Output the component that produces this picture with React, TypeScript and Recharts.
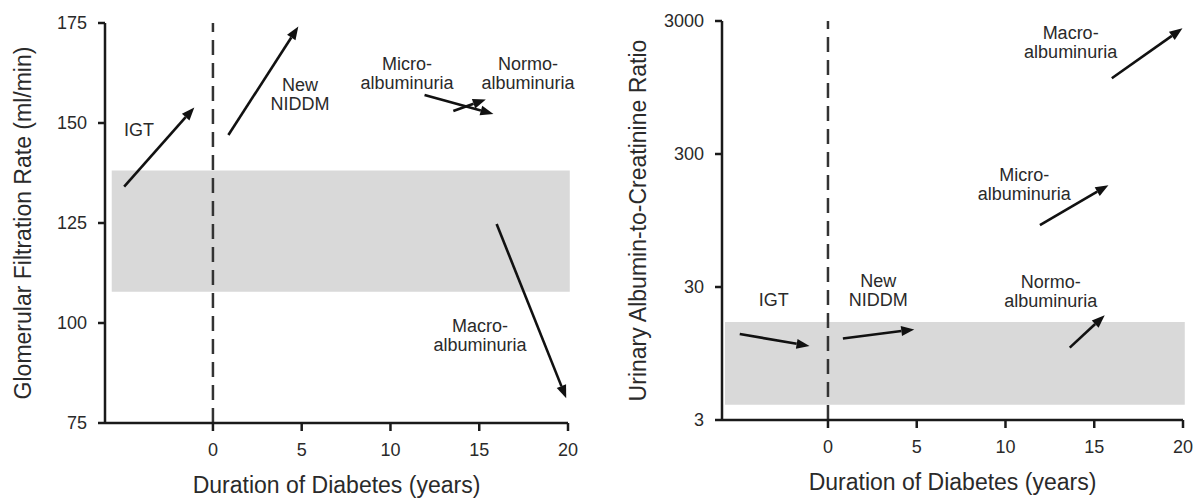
import React from "react"
import {
  ComposedChart,
  XAxis,
  YAxis,
  ReferenceArea,
  ReferenceLine,
  ReferenceDot,
} from "recharts"

// shared x axis
const xTicks = [0, 5, 10, 15, 20]

// left panel: GFR (ml/min)
const gfrTicks = [75, 100, 125, 150, 175]
const gfrBand = { x1: -5.7, x2: 20.1, y1: 107.8, y2: 138.1 }
const gfrArrows = [
  { name: "IGT", from: [-5.0, 134.1], to: [-1.05, 153.9] },
  { name: "New NIDDM", from: [0.87, 147.0], to: [4.81, 174.1] },
  { name: "Micro", from: [11.92, 157.0], to: [15.8, 152.25] },
  { name: "Normo", from: [13.54, 153.0], to: [15.37, 155.9] },
  { name: "Macro", from: [15.98, 124.75], to: [19.9, 81.2] },
]
const gfrLabels = [
  { lines: ["IGT"], x: -4.16, y: 148.25 },
  { lines: ["New", "NIDDM"], x: 4.9, y: 159.5 },
  { lines: ["Micro-", "albuminuria"], x: 10.93, y: 164.75 },
  { lines: ["Normo-", "albuminuria"], x: 17.75, y: 164.75 },
  { lines: ["Macro-", "albuminuria"], x: 15.04, y: 99.25 },
]

// right panel: urinary albumin-to-creatinine ratio (log)
const acrTicks = [3, 30, 300, 3000]
const acrBand = { x1: -5.8, x2: 20.1, y1: 3.9, y2: 16.4 }
const acrArrows = [
  { name: "IGT", from: [-4.97, 13.3], to: [-1.04, 10.8] },
  { name: "New NIDDM", from: [0.84, 12.3], to: [4.86, 14.4] },
  { name: "Normo", from: [13.62, 10.5], to: [15.59, 18.4] },
  { name: "Micro", from: [11.94, 87.7], to: [15.8, 175] },
  { name: "Macro", from: [15.99, 1113], to: [19.97, 2643] },
]
const acrLabels = [
  { lines: ["IGT"], x: -3.05, y: 23.9 },
  { lines: ["New", "NIDDM"], x: 2.83, y: 33.3 },
  { lines: ["Normo-", "albuminuria"], x: 12.55, y: 32.8 },
  { lines: ["Micro-", "albuminuria"], x: 11.06, y: 208 },
  { lines: ["Macro-", "albuminuria"], x: 13.67, y: 2420 },
]

const FONT = "'Liberation Sans', Arial, sans-serif"
const TEXT = "#2a2a2a"

const Arrow = (p: any) => {
  const { x1, y1, x2, y2 } = p
  const a = Math.atan2(y2 - y1, x2 - x1)
  const L = 13
  const W = 5
  const bx = x2 - L * Math.cos(a)
  const by = y2 - L * Math.sin(a)
  const pts = [
    [x2, y2],
    [bx - W * Math.sin(a), by + W * Math.cos(a)],
    [bx + W * Math.sin(a), by - W * Math.cos(a)],
  ]
  return (
    <g>
      <line x1={x1} y1={y1} x2={bx} y2={by} stroke="#111" strokeWidth={2.6} />
      <polygon points={pts.map((q) => q.join(",")).join(" ")} fill="#111" />
    </g>
  )
}

const makeLabel = (lines: string[]) => (p: any) => (
  <text
    x={p.cx}
    y={p.cy}
    textAnchor="middle"
    dominantBaseline="central"
    fontFamily={FONT}
    fontSize={18}
    fill={TEXT}
  >
    {lines.map((l, i) => (
      <tspan key={i} x={p.cx} dy={i === 0 ? 0 : 19}>
        {l}
      </tspan>
    ))}
  </text>
)

const yTitle = (text: string, dx: number) => (p: any) => {
  const vb = p.viewBox
  const cx = vb.x + dx
  const cy = vb.y + vb.height / 2
  return (
    <text
      x={cx}
      y={cy}
      transform={`rotate(-90, ${cx}, ${cy})`}
      textAnchor="middle"
      dominantBaseline="central"
      fontFamily={FONT}
      fontSize={23}
      fill={TEXT}
    >
      {text}
    </text>
  )
}

const xTitle = (p: any) => {
  const vb = p.viewBox
  return (
    <text
      x={vb.x + vb.width / 2}
      y={vb.y + 62}
      textAnchor="middle"
      dominantBaseline="central"
      fontFamily={FONT}
      fontSize={23}
      fill={TEXT}
    >
      Duration of Diabetes (years)
    </text>
  )
}

const tickStyle = { fontFamily: FONT, fontSize: 18, fill: TEXT }
const axisLine = { stroke: "#1a1a1a", strokeWidth: 2.5 }

function Panel(props: {
  width: number
  top: number
  right: number
  yWidth: number
  xHeight: number
  xMin: number
  yDomain: number[]
  yTicks: number[]
  log?: boolean
  band: { x1: number; x2: number; y1: number; y2: number }
  arrows: { name: string; from: number[]; to: number[] }[]
  labels: { lines: string[]; x: number; y: number }[]
  title: string
  titleX: number
}) {
  return (
    <ComposedChart
      width={props.width}
      height={499}
      data={[]}
      margin={{ top: props.top, right: props.right, left: 0, bottom: 0 }}
    >
      <XAxis
        type="number"
        dataKey="x"
        domain={[props.xMin, 20]}
        ticks={xTicks}
        allowDataOverflow
        height={props.xHeight}
        tickSize={8}
        tickMargin={12}
        tick={tickStyle}
        axisLine={axisLine}
        tickLine={axisLine}
        label={{ content: xTitle }}
      />
      <YAxis
        type="number"
        dataKey="y"
        scale={props.log ? "log" : "auto"}
        domain={props.yDomain}
        ticks={props.yTicks}
        allowDataOverflow
        width={props.yWidth}
        tickSize={7}
        tickMargin={11}
        tick={tickStyle}
        axisLine={axisLine}
        tickLine={axisLine}
        label={{ content: yTitle(props.title, props.titleX) }}
      />
      <ReferenceArea
        x1={props.band.x1}
        x2={props.band.x2}
        y1={props.band.y1}
        y2={props.band.y2}
        fill="#d9d9d9"
        fillOpacity={1}
        stroke="none"
        ifOverflow="visible"
      />
      <ReferenceLine
        x={0}
        stroke="#333"
        strokeWidth={2.5}
        strokeDasharray="15 8"
      />
      {props.arrows.map((a) => (
        <ReferenceLine
          key={a.name}
          segment={[
            { x: a.from[0], y: a.from[1] },
            { x: a.to[0], y: a.to[1] },
          ]}
          ifOverflow="visible"
          shape={Arrow}
        />
      ))}
      {props.labels.map((l) => (
        <ReferenceDot
          key={l.lines.join("")}
          x={l.x}
          y={l.y}
          r={0}
          ifOverflow="visible"
          shape={makeLabel(l.lines)}
        />
      ))}
    </ComposedChart>
  )
}

export default function App() {
  return (
    <div
      style={{
        position: "absolute",
        left: 0,
        top: 0,
        width: 1195,
        height: 499,
        background: "#fff",
        display: "flex",
      }}
    >
      <Panel
        width={600}
        top={23}
        right={32}
        yWidth={105}
        xHeight={76}
        xMin={-6.08}
        yDomain={[75, 175]}
        yTicks={gfrTicks}
        band={gfrBand}
        arrows={gfrArrows}
        labels={gfrLabels}
        title="Glomerular Filtration Rate (ml/min)"
        titleX={23}
      />
      <Panel
        width={595}
        top={21}
        right={12}
        yWidth={122}
        xHeight={79}
        xMin={-5.97}
        yDomain={[3, 3000]}
        yTicks={acrTicks}
        log
        band={acrBand}
        arrows={acrArrows}
        labels={acrLabels}
        title="Urinary Albumin-to-Creatinine Ratio"
        titleX={38}
      />
    </div>
  )
}
